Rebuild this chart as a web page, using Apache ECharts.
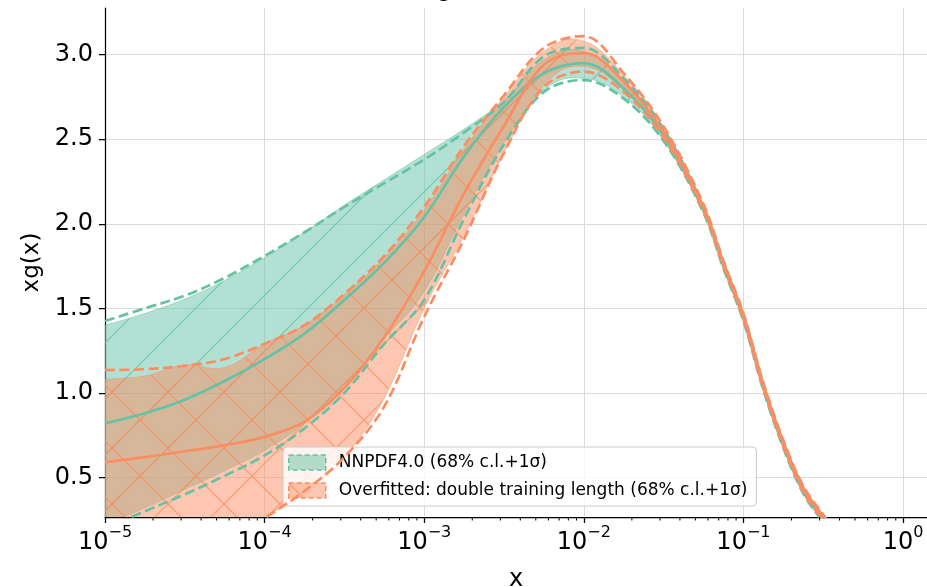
<!DOCTYPE html>
<html><head><meta charset="utf-8">
<script src="https://cdn.jsdelivr.net/npm/echarts@6/dist/echarts.min.js"></script>
<style>html,body{margin:0;padding:0;background:#fff}#c{width:927px;height:587px}</style>
</head><body><div id="c"></div>
<script>
// ---------------- data ----------------
const xValues = [1e-5, 1.778e-5, 3.162e-5, 5.623e-5, 1e-4, 1.778e-4, 3.162e-4, 5.623e-4,
  1e-3, 1.778e-3, 3.162e-3, 5.623e-3, 1e-2, 1.778e-2, 3.162e-2, 5.623e-2, 7.499e-2,
  0.1, 0.1334, 0.1778, 0.2371, 0.3162, 0.4217, 0.5623];

// NNPDF4.0
const nnCentral = [0.82, 0.88, 0.96, 1.07, 1.20, 1.35, 1.55, 1.77, 2.04, 2.40, 2.69, 2.89, 2.95, 2.80, 2.52, 2.085, 1.755, 1.445, 1.035, 0.695, 0.425, 0.255, 0.095, -0.055];
const nnClUp    = [1.40, 1.47, 1.555, 1.665, 1.80, 1.95, 2.11, 2.26, 2.41, 2.56, 2.73, 2.97, 3.02, 2.85, 2.55, 2.10, 1.77, 1.46, 1.05, 0.71, 0.44, 0.27, 0.11, -0.04];
const nnClLo    = [0.22, 0.32, 0.43, 0.54, 0.66, 0.82, 1.03, 1.32, 1.60, 2.06, 2.48, 2.79, 2.86, 2.75, 2.49, 2.065, 1.735, 1.425, 1.015, 0.675, 0.405, 0.235, 0.075, -0.075];
const nnSdUp    = [1.425, 1.50, 1.575, 1.68, 1.81, 1.95, 2.10, 2.24, 2.38, 2.54, 2.72, 2.99, 3.04, 2.86, 2.56, 2.10, 1.77, 1.46, 1.05, 0.71, 0.44, 0.27, 0.11, -0.04];
const nnSdLo    = [0.20, 0.30, 0.40, 0.51, 0.63, 0.79, 1.00, 1.29, 1.55, 2.03, 2.47, 2.78, 2.85, 2.74, 2.49, 2.065, 1.735, 1.425, 1.015, 0.675, 0.405, 0.235, 0.075, -0.075];

// Overfitted: double training length
const ofCentral = [0.59, 0.62, 0.655, 0.69, 0.74, 0.83, 1.03, 1.33, 1.72, 2.18, 2.58, 2.94, 3.01, 2.84, 2.54, 2.095, 1.765, 1.455, 1.045, 0.705, 0.435, 0.265, 0.105, -0.045];
const ofClUp    = [1.08, 1.10, 1.165, 1.15, 1.29, 1.40, 1.58, 1.80, 2.08, 2.44, 2.75, 3.02, 3.08, 2.88, 2.57, 2.11, 1.775, 1.465, 1.055, 0.715, 0.445, 0.275, 0.115, -0.035];
const ofClLo    = [-0.30, -0.15, 0.00, 0.14, 0.27, 0.40, 0.62, 0.97, 1.50, 1.93, 2.42, 2.82, 2.93, 2.79, 2.51, 2.075, 1.745, 1.435, 1.025, 0.685, 0.415, 0.245, 0.085, -0.065];
const ofSdUp    = [1.135, 1.14, 1.16, 1.20, 1.29, 1.40, 1.585, 1.81, 2.10, 2.46, 2.76, 3.04, 3.11, 2.89, 2.575, 2.115, 1.78, 1.47, 1.06, 0.72, 0.45, 0.28, 0.12, -0.03];
const ofSdLo    = [-0.30, -0.20, -0.05, 0.12, 0.26, 0.42, 0.62, 0.92, 1.45, 1.91, 2.42, 2.81, 2.90, 2.78, 2.51, 2.075, 1.745, 1.435, 1.025, 0.685, 0.415, 0.245, 0.085, -0.065];

const nnName = 'NNPDF4.0 (68% c.l.+1σ)';
const ofName = 'Overfitted: double training length (68% c.l.+1σ)';
const xMajorExps = [-5, -4, -3, -2, -1, 0];
const yTickValues = [0.5, 1.0, 1.5, 2.0, 2.5, 3.0];
const xMin = 1e-5, xMax = 1.413, yMin = 0.266, yMax = 3.276;

// ---------------- helpers ----------------
const GREEN = '102,194,165', ORANGE = '252,141,98';
const FONT = 'DejaVu Sans';
function hatch(rgb, dirs, size, lineCol) {
  const c = document.createElement('canvas');
  c.width = size; c.height = size;
  const g = c.getContext('2d');
  g.fillStyle = 'rgba(' + rgb + ',0.5)';
  g.fillRect(0, 0, size, size);
  g.strokeStyle = lineCol || ('rgba(' + rgb + ',0.7)');
  g.lineWidth = 1.4;
  dirs.forEach(d => {
    g.beginPath();
    for (let k = -1; k <= 1; k++) {
      if (d === '/') { g.moveTo(k * size, size); g.lineTo(k * size + size, 0); }
      else { g.moveTo(k * size, 0); g.lineTo(k * size + size, size); }
    }
    g.stroke();
  });
  return c;
}
const hatchG = { image: hatch(GREEN, ['/'], 56), repeat: 'repeat' };
const hatchO = { image: hatch(ORANGE, ['/', '\\'], 56), repeat: 'repeat' };
const legendG = { image: hatch(GREEN, ['/'], 56, 'rgba(60,60,60,0.85)'), repeat: 'repeat' };

const pts = ys => xValues.map((x, i) => [x, ys[i]]);
const minorTicks = [];
for (let e = -5; e <= 0; e++) for (let m = 2; m <= 9; m++) { const v = m * Math.pow(10, e); if (v <= xMax) minorTicks.push([v, yMin]); }

// smooth pixel-space path through screen points (rendering only)
function curve(p, start) {
  const t = 0.2, n = p.length;
  let d = (start ? 'M' : 'L') + p[0][0].toFixed(2) + ' ' + p[0][1].toFixed(2);
  for (let i = 1; i < n; i++) {
    const a = p[i - 1], b = p[i], pa = p[Math.max(i - 2, 0)], nb = p[Math.min(i + 1, n - 1)];
    const c1 = [a[0] + (b[0] - pa[0]) * t, a[1] + (b[1] - pa[1]) * t];
    const c2 = [b[0] - (nb[0] - a[0]) * t, b[1] - (nb[1] - a[1]) * t];
    d += 'C' + c1[0].toFixed(2) + ' ' + c1[1].toFixed(2) + ' ' + c2[0].toFixed(2) + ' ' + c2[1].toFixed(2) + ' ' + b[0].toFixed(2) + ' ' + b[1].toFixed(2);
  }
  return d;
}
function band(name, up, lo, rgb, pat, z) {
  return { name, type: 'custom', coordinateSystem: 'cartesian2d', data: [[xMin, yMin]], clip: true, silent: true, z,
    renderItem: (params, api) => {
      const U = xValues.map((x, i) => api.coord([x, up[i]]));
      const L = xValues.map((x, i) => api.coord([x, lo[i]])).reverse();
      return { type: 'path', shape: { pathData: curve(U, true) + curve(L, false) + 'Z' },
        style: { fill: pat, stroke: 'rgba(' + rgb + ',0.5)', lineWidth: 1 } };
    } };
}
const SM = 0.35;
function line(name, ys, rgb, dashed, z) {
  return { name, type: 'line', data: pts(ys), smooth: SM, symbol: 'none', silent: true, z,
    lineStyle: { width: 2.7, color: 'rgb(' + rgb + ')', type: dashed ? [10, 4.5] : 'solid' } };
}

const chart = echarts.init(document.getElementById('c'));
chart.setOption({
  animation: false,
  backgroundColor: '#fff',
  grid: { left: 105, right: 0, top: 8, bottom: 70, containLabel: false, outerBoundsMode: 'none' },
  graphic: [{ type: 'text', left: 437, top: -22, silent: true,
    style: { text: 'g', font: '24px "DejaVu Sans"', fill: '#000' } }],
  xAxis: {
    type: 'log', logBase: 10, min: xMin, max: xMax, splitNumber: 6,
    axisLine: { show: true, onZero: false, lineStyle: { color: '#000', width: 1.25 } },
    axisTick: { show: true, length: 6, inside: false, lineStyle: { color: '#000', width: 1.25 } },
    splitLine: { show: true, lineStyle: { color: '#dcdcdc', width: 1 } },
    axisLabel: {
      margin: 8, color: '#000', showMaxLabel: false,
      formatter: v => {
        const e = Math.round(Math.log10(v));
        if (Math.abs(Math.log10(v) - e) > 1e-6 || xMajorExps.indexOf(e) < 0) return '';
        return '{b|10}{s|' + (e < 0 ? '−' + (-e) : e) + '}';
      },
      rich: { b: { fontSize: 24, fontFamily: FONT, color: '#000', lineHeight: 30, verticalAlign: 'bottom' },
              s: { fontSize: 16, fontFamily: FONT, color: '#000', verticalAlign: 'top', lineHeight: 30 } }
    },
    name: 'x', nameLocation: 'middle', nameGap: 51,
    nameTextStyle: { fontSize: 24, fontFamily: FONT, color: '#000' }
  },
  yAxis: {
    type: 'value', min: yMin, max: yMax, splitNumber: 6,
    axisLine: { show: true, lineStyle: { color: '#000', width: 1.25 } },
    axisTick: { show: true, length: 6, customValues: yTickValues, lineStyle: { color: '#000', width: 1.25 } },
    splitLine: { show: true, lineStyle: { color: '#dcdcdc', width: 1 } },
    axisLabel: { fontSize: 24, fontFamily: FONT, color: '#000', margin: 12, customValues: yTickValues,
      formatter: v => v.toFixed(1) },
    name: 'xg(x)', nameLocation: 'middle', nameGap: 60, nameRotate: 90,
    nameTextStyle: { fontSize: 23, fontFamily: FONT, color: '#000' }
  },
  legend: {
    orient: 'vertical', left: 283, top: 447, itemWidth: 37, itemHeight: 15, itemGap: 11,
    padding: [7, 9, 7, 5], backgroundColor: 'rgba(255,255,255,0.8)',
    borderColor: '#cccccc', borderWidth: 1, borderRadius: 4,
    textStyle: { fontSize: 17, fontFamily: FONT, color: '#000', padding: [0, 0, 0, 8] },
    selectedMode: false,
    data: [
      { name: nnName, icon: 'rect', itemStyle: { color: legendG, borderColor: 'rgb(' + GREEN + ')', borderWidth: 1.5, borderType: [5, 3] } },
      { name: ofName, icon: 'rect', itemStyle: { color: hatchO, borderColor: 'rgb(' + ORANGE + ')', borderWidth: 1.5, borderType: [5, 3] } }
    ]
  },
  series: [
    band(nnName, nnClUp, nnClLo, GREEN, hatchG, 1),
    band(ofName, ofClUp, ofClLo, ORANGE, hatchO, 2),
    line('nnCentral', nnCentral, GREEN, false, 3),
    line('nnSdUp', nnSdUp, GREEN, true, 3),
    line('nnSdLo', nnSdLo, GREEN, true, 3),
    line('ofCentral', ofCentral, ORANGE, false, 4),
    line('ofSdUp', ofSdUp, ORANGE, true, 4),
    line('ofSdLo', ofSdLo, ORANGE, true, 4),
    { name: 'minorTicks', type: 'custom', data: minorTicks, silent: true, z: 5, clip: false,
      renderItem: (params, api) => {
        const p = api.coord([api.value(0), api.value(1)]);
        return { type: 'line', shape: { x1: p[0], y1: p[1], x2: p[0], y2: p[1] + 3.5 },
          style: { stroke: '#000', lineWidth: 1 } };
      } }
  ]
});
</script></body></html>
